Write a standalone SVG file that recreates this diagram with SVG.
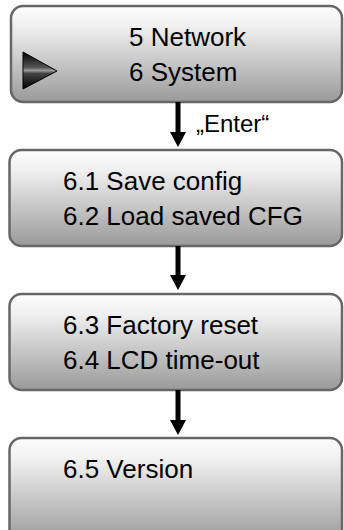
<svg xmlns="http://www.w3.org/2000/svg" width="344" height="530" viewBox="0 0 344 530">
  <style>
    .box { fill: url(#panel); stroke: #676767; stroke-width: 2.5; }
    .label { font-family: "Liberation Sans", Arial, sans-serif; font-size: 26px; fill: #000; }
    .note { font-family: "Liberation Sans", Arial, sans-serif; font-size: 24px; fill: #000; }
    .flow { stroke: #000; stroke-width: 5; fill: none; marker-end: url(#head); }
  </style>
  <defs>
    <linearGradient id="panel" x1="0" y1="0" x2="0" y2="1">
      <stop offset="0" stop-color="#fdfdfd"/>
      <stop offset="0.2" stop-color="#f1f1f1"/>
      <stop offset="1" stop-color="#9a9a9a"/>
    </linearGradient>
    <linearGradient id="pointer" x1="0" y1="0" x2="0" y2="1">
      <stop offset="0" stop-color="#000"/>
      <stop offset="0.42" stop-color="#555"/>
      <stop offset="0.5" stop-color="#9a9a9a"/>
      <stop offset="0.58" stop-color="#444"/>
      <stop offset="1" stop-color="#000"/>
    </linearGradient>
    <marker id="head" viewBox="0 0 15 16" markerUnits="userSpaceOnUse" markerWidth="15" markerHeight="16" refX="0" refY="8" orient="auto">
      <path d="M0,0 L15,8 L0,16 Z" fill="#000"/>
    </marker>
  </defs>

  <!-- main menu entries -->
  <g id="menu-main">
    <rect class="box" x="11" y="6" width="331" height="96" rx="12"/>
    <polygon points="23,52 57,71 23,89" fill="url(#pointer)" stroke="#000" stroke-width="1"/>
    <text class="label" x="129" y="46">5 Network</text>
    <text class="label" x="129" y="80.5">6 System</text>
  </g>

  <!-- system submenu, page 1 -->
  <g id="menu-system-1">
    <rect class="box" x="9.5" y="150" width="332.5" height="96" rx="12"/>
    <text class="label" x="63" y="190">6.1 Save config</text>
    <text class="label" x="63" y="225">6.2 Load saved CFG</text>
  </g>

  <!-- system submenu, page 2 -->
  <g id="menu-system-2">
    <rect class="box" x="9.5" y="294" width="332.5" height="96" rx="12"/>
    <text class="label" x="63" y="334">6.3 Factory reset</text>
    <text class="label" x="63" y="369">6.4 LCD time-out</text>
  </g>

  <!-- system submenu, page 3 -->
  <g id="menu-system-3">
    <rect class="box" x="9.5" y="438" width="332.5" height="104" rx="12"/>
    <text class="label" x="63" y="478">6.5 Version</text>
  </g>

  <!-- navigation arrows -->
  <g id="connectors">
    <line class="flow" x1="178" y1="102" x2="178" y2="132"/>
    <text class="note" x="196" y="132">„Enter“</text>
    <line class="flow" x1="178" y1="246" x2="178" y2="275"/>
    <line class="flow" x1="178" y1="390" x2="178" y2="420"/>
  </g>
</svg>
